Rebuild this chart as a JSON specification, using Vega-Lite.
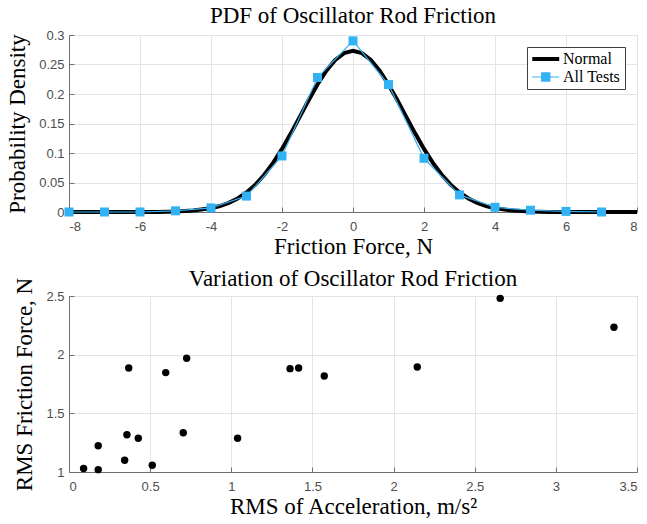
{
  "$schema": "https://vega.github.io/schema/vega-lite/v6.json",
  "padding": {"left": 6, "top": 4, "right": 8, "bottom": 2},
  "spacing": 8,
  "datasets": {
    "pdf": [
      {"series": "Normal", "x": -8, "y": 0},
      {"series": "Normal", "x": -7, "y": 0},
      {"series": "Normal", "x": -6, "y": 0.0001},
      {"series": "Normal", "x": -5.5, "y": 0.0002},
      {"series": "Normal", "x": -5, "y": 0.0008},
      {"series": "Normal", "x": -4.5, "y": 0.0024},
      {"series": "Normal", "x": -4, "y": 0.0064},
      {"series": "Normal", "x": -3.75, "y": 0.0101},
      {"series": "Normal", "x": -3.5, "y": 0.0154},
      {"series": "Normal", "x": -3.25, "y": 0.0229},
      {"series": "Normal", "x": -3, "y": 0.0331},
      {"series": "Normal", "x": -2.75, "y": 0.0464},
      {"series": "Normal", "x": -2.5, "y": 0.0631},
      {"series": "Normal", "x": -2.25, "y": 0.0833},
      {"series": "Normal", "x": -2, "y": 0.1069},
      {"series": "Normal", "x": -1.75, "y": 0.1333},
      {"series": "Normal", "x": -1.5, "y": 0.1612},
      {"series": "Normal", "x": -1.25, "y": 0.1894},
      {"series": "Normal", "x": -1, "y": 0.2162},
      {"series": "Normal", "x": -0.75, "y": 0.2395},
      {"series": "Normal", "x": -0.5, "y": 0.2577},
      {"series": "Normal", "x": -0.25, "y": 0.2693},
      {"series": "Normal", "x": 0, "y": 0.2733},
      {"series": "Normal", "x": 0.25, "y": 0.2693},
      {"series": "Normal", "x": 0.5, "y": 0.2577},
      {"series": "Normal", "x": 0.75, "y": 0.2395},
      {"series": "Normal", "x": 1, "y": 0.2162},
      {"series": "Normal", "x": 1.25, "y": 0.1894},
      {"series": "Normal", "x": 1.5, "y": 0.1612},
      {"series": "Normal", "x": 1.75, "y": 0.1333},
      {"series": "Normal", "x": 2, "y": 0.1069},
      {"series": "Normal", "x": 2.25, "y": 0.0833},
      {"series": "Normal", "x": 2.5, "y": 0.0631},
      {"series": "Normal", "x": 2.75, "y": 0.0464},
      {"series": "Normal", "x": 3, "y": 0.0331},
      {"series": "Normal", "x": 3.25, "y": 0.0229},
      {"series": "Normal", "x": 3.5, "y": 0.0154},
      {"series": "Normal", "x": 3.75, "y": 0.0101},
      {"series": "Normal", "x": 4, "y": 0.0064},
      {"series": "Normal", "x": 4.5, "y": 0.0024},
      {"series": "Normal", "x": 5, "y": 0.0008},
      {"series": "Normal", "x": 5.5, "y": 0.0002},
      {"series": "Normal", "x": 6, "y": 0.0001},
      {"series": "Normal", "x": 7, "y": 0},
      {"series": "Normal", "x": 8, "y": 0},
      {"series": "All Tests", "x": -8, "y": 0},
      {"series": "All Tests", "x": -7, "y": 0},
      {"series": "All Tests", "x": -6, "y": 0},
      {"series": "All Tests", "x": -5, "y": 0.002},
      {"series": "All Tests", "x": -4, "y": 0.007},
      {"series": "All Tests", "x": -3, "y": 0.027},
      {"series": "All Tests", "x": -2, "y": 0.095},
      {"series": "All Tests", "x": -1, "y": 0.228},
      {"series": "All Tests", "x": 0, "y": 0.29},
      {"series": "All Tests", "x": 1, "y": 0.216},
      {"series": "All Tests", "x": 2, "y": 0.091},
      {"series": "All Tests", "x": 3, "y": 0.029},
      {"series": "All Tests", "x": 4, "y": 0.008},
      {"series": "All Tests", "x": 5, "y": 0.003},
      {"series": "All Tests", "x": 6, "y": 0.001},
      {"series": "All Tests", "x": 7, "y": 0}
    ],
    "rms": [
      {"acc": 0.09, "force": 1.03},
      {"acc": 0.18, "force": 1.02},
      {"acc": 0.18, "force": 1.224},
      {"acc": 0.343, "force": 1.10},
      {"acc": 0.357, "force": 1.318},
      {"acc": 0.368, "force": 1.887},
      {"acc": 0.427, "force": 1.287},
      {"acc": 0.513, "force": 1.057},
      {"acc": 0.596, "force": 1.847},
      {"acc": 0.704, "force": 1.335},
      {"acc": 0.725, "force": 1.969},
      {"acc": 1.039, "force": 1.287},
      {"acc": 1.362, "force": 1.881},
      {"acc": 1.415, "force": 1.887},
      {"acc": 1.573, "force": 1.818},
      {"acc": 2.146, "force": 1.895},
      {"acc": 2.657, "force": 2.48},
      {"acc": 3.358, "force": 2.234}
    ]
  },
  "vconcat": [
    {
      "width": 568,
      "height": 177,
      "title": {"text": "PDF of Oscillator Rod Friction", "offset": 1},
      "data": {"name": "pdf"},
      "layer": [
        {
          "mark": {"type": "line", "clip": false},
          "encoding": {
            "x": {"field": "x", "type": "quantitative", "scale": {"domain": [-8, 8], "nice": false},
                  "axis": {"values": [-8, -6, -4, -2, 0, 2, 4, 6, 8], "tickCount": 20, "labelExpr": "'' + datum.value", "title": "Friction Force, N"}},
            "y": {"field": "y", "type": "quantitative", "scale": {"domain": [0, 0.3], "nice": false},
                  "axis": {"values": [0, 0.05, 0.1, 0.15, 0.2, 0.25, 0.3], "tickCount": 20, "labelExpr": "'' + datum.value", "title": "Probability Density"}},
            "color": {"field": "series", "type": "nominal", "sort": ["Normal", "All Tests"],
                      "scale": {"domain": ["Normal", "All Tests"], "range": ["#000000", "#33b1f5"]},
                      "legend": {
                        "title": null,
                        "orient": "top-right",
                        "offset": 12,
                        "fillColor": "#ffffff",
                        "strokeColor": "#404040",
                        "padding": 4,
                        "labelFont": "Liberation Serif",
                        "labelFontSize": 16,
                        "labelColor": "#000000",
                        "labelOffset": 16,
                        "symbolSize": 182,
                        "rowPadding": 2,
                        "encode": {
                          "symbols": {
                            "update": {
                              "shape": {"signal": "datum.value === 'Normal' ? 'M-1,0H3' : 'M-1,0H3M0.4,-0.6H1.6V0.6H0.4Z'"},
                              "stroke": {"signal": "datum.value === 'Normal' ? '#000000' : '#33b1f5'"},
                              "fill": {"signal": "datum.value === 'Normal' ? 'transparent' : '#33b1f5'"},
                              "strokeWidth": {"signal": "datum.value === 'Normal' ? 4 : 1.2"},
                              "opacity": {"value": 1}
                            }
                          }
                        }
                      }},
            "strokeWidth": {"condition": {"test": "datum.series === 'Normal'", "value": 4}, "value": 1.2}
          }
        },
        {
          "transform": [{"filter": "datum.series === 'All Tests'"}],
          "mark": {"type": "point", "shape": "square", "filled": true, "size": 81, "opacity": 1, "color": "#33b1f5"},
          "encoding": {
            "x": {"field": "x", "type": "quantitative"},
            "y": {"field": "y", "type": "quantitative"}
          }
        }
      ]
    },
    {
      "width": 568,
      "height": 176,
      "title": {"text": "Variation of Oscillator Rod Friction", "offset": -14},
      "data": {"name": "rms"},
      "mark": {"type": "point", "shape": "circle", "filled": true, "size": 55, "opacity": 1, "color": "#000000"},
      "encoding": {
        "x": {"field": "acc", "type": "quantitative", "scale": {"domain": [0, 3.5], "nice": false},
              "axis": {"values": [0, 0.5, 1, 1.5, 2, 2.5, 3, 3.5], "tickCount": 20, "labelExpr": "'' + datum.value", "title": "RMS of Acceleration, m/s²"}},
        "y": {"field": "force", "type": "quantitative", "scale": {"domain": [1, 2.5], "nice": false},
              "axis": {"values": [1, 1.5, 2, 2.5], "tickCount": 20, "labelExpr": "'' + datum.value", "title": "RMS Friction Force, N"}}
      }
    }
  ],
  "config": {
    "view": {"stroke": "#707070", "strokeWidth": 1},
    "axis": {
      "grid": true,
      "gridColor": "#e4e4e4",
      "gridWidth": 1,
      "domainColor": "#707070",
      "domainWidth": 1,
      "ticks": true,
      "tickSize": -5,
      "tickColor": "#707070",
      "labelOverlap": false,
      "labelFont": "Liberation Sans",
      "labelFontSize": 13,
      "labelColor": "#4d4d4d",
      "titleFont": "Liberation Serif",
      "titleFontSize": 23,
      "titleFontWeight": "normal",
      "titleColor": "#000000"
    },
    "axisX": {"labelPadding": 13, "titlePadding": 2},
    "axisY": {"labelPadding": 10, "titlePadding": 9},
    "title": {"font": "Liberation Serif", "fontSize": 23, "fontWeight": "normal", "color": "#000000"}
  }
}
